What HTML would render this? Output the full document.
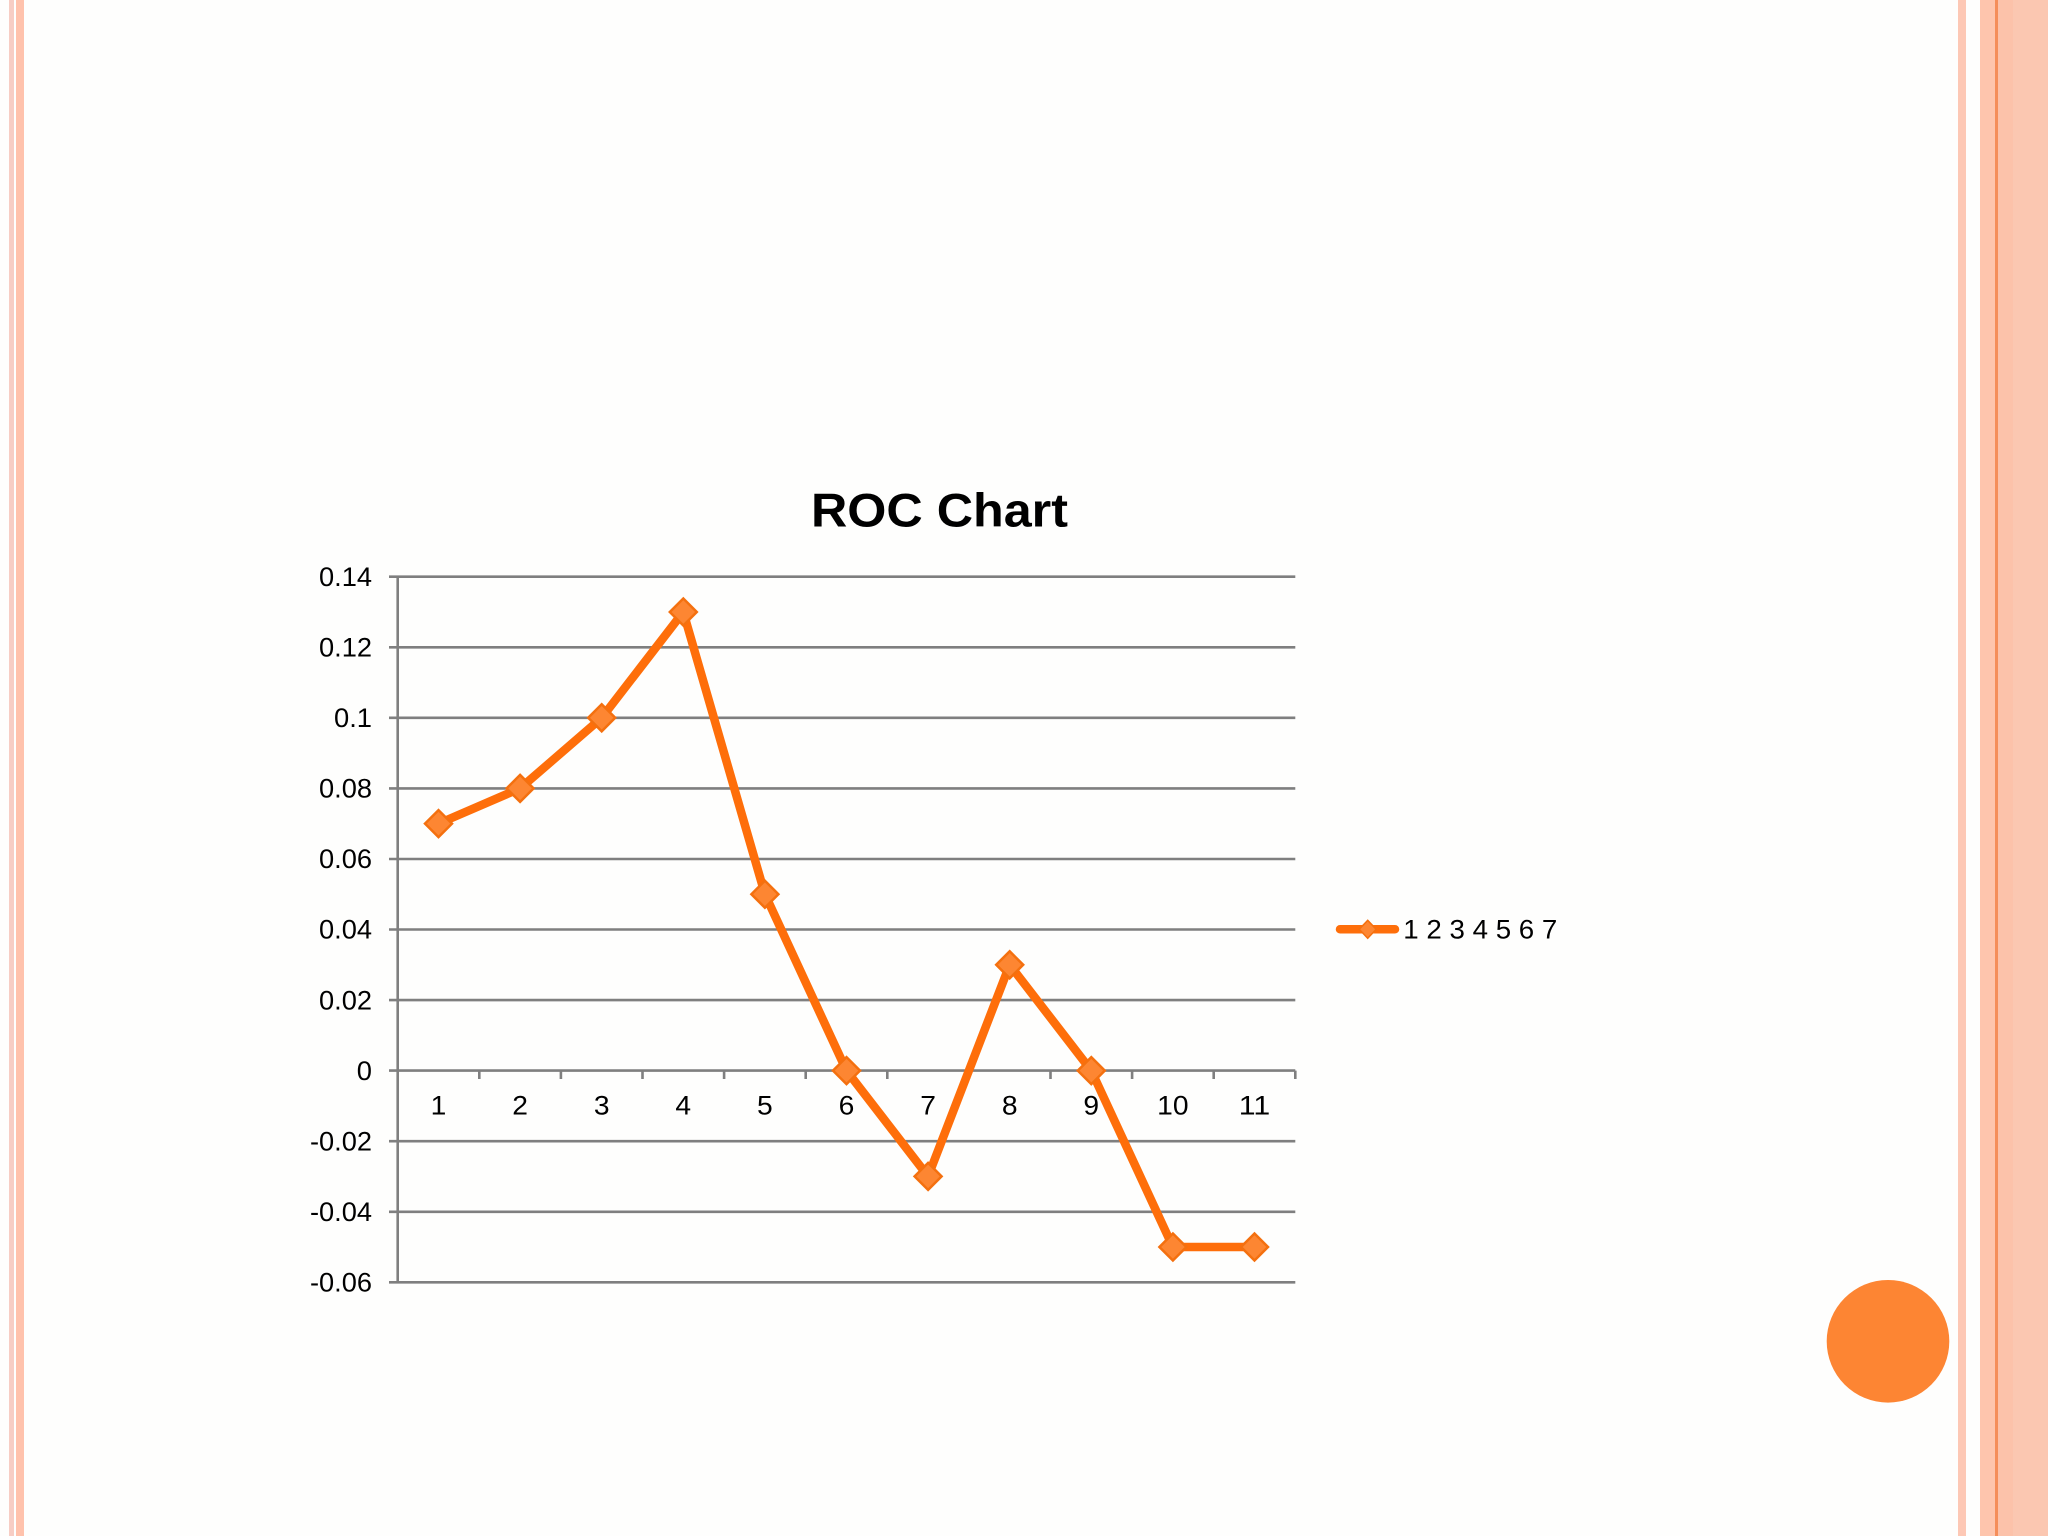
<!DOCTYPE html>
<html>
<head>
<meta charset="utf-8">
<style>
  html,body{margin:0;padding:0;}
  body{width:2048px;height:1536px;overflow:hidden;background:#fefefd;}
  svg{display:block;}
  text{font-family:"Liberation Sans",Arial,sans-serif;}
</style>
</head>
<body>
<svg width="2048" height="1536" viewBox="0 0 2048 1536" xmlns="http://www.w3.org/2000/svg">
  <rect x="0" y="0" width="2048" height="1536" fill="#fefefd"/>
  <!-- left border stripes -->
  <rect x="9" y="0" width="5" height="1536" fill="#f7cdc4"/>
  <rect x="16" y="0" width="8" height="1536" fill="#ffc2ac"/>
  <!-- right border stripes -->
  <rect x="1958" y="0" width="8" height="1536" fill="#fdc8b5"/>
  <rect x="1980" y="0" width="15" height="1536" fill="#fec5ad"/>
  <rect x="1995" y="0" width="3" height="1536" fill="#f58e5a"/>
  <rect x="1998" y="0" width="15" height="1536" fill="#fcc2aa"/>
  <rect x="2013" y="0" width="35" height="1536" fill="#fbc7b1"/>

  <!-- orange circle -->
  <circle cx="1888" cy="1341.3" r="61.3" fill="#fd8533"/>

  <!-- title -->
  <text x="939.5" y="526.7" font-size="47" font-weight="bold" text-anchor="middle" fill="#000" textLength="257" lengthAdjust="spacingAndGlyphs">ROC Chart</text>

  <!-- gridlines -->
  <g stroke="#7f7f7f" stroke-width="2.6" fill="none">
    <line x1="389" y1="576.7" x2="1295.3" y2="576.7"/>
    <line x1="389" y1="647.3" x2="1295.3" y2="647.3"/>
    <line x1="389" y1="717.8" x2="1295.3" y2="717.8"/>
    <line x1="389" y1="788.4" x2="1295.3" y2="788.4"/>
    <line x1="389" y1="859.0" x2="1295.3" y2="859.0"/>
    <line x1="389" y1="929.5" x2="1295.3" y2="929.5"/>
    <line x1="389" y1="1000.1" x2="1295.3" y2="1000.1"/>
    <line x1="389" y1="1070.6" x2="1295.3" y2="1070.6"/>
    <line x1="389" y1="1141.2" x2="1295.3" y2="1141.2"/>
    <line x1="389" y1="1211.8" x2="1295.3" y2="1211.8"/>
    <line x1="389" y1="1282.3" x2="1295.3" y2="1282.3"/>
    <!-- y axis -->
    <line x1="397.7" y1="576.7" x2="397.7" y2="1282.3"/>
    <!-- x ticks -->
    <line x1="479.3" y1="1070.6" x2="479.3" y2="1079"/>
    <line x1="560.9" y1="1070.6" x2="560.9" y2="1079"/>
    <line x1="642.5" y1="1070.6" x2="642.5" y2="1079"/>
    <line x1="724.1" y1="1070.6" x2="724.1" y2="1079"/>
    <line x1="805.7" y1="1070.6" x2="805.7" y2="1079"/>
    <line x1="887.3" y1="1070.6" x2="887.3" y2="1079"/>
    <line x1="968.9" y1="1070.6" x2="968.9" y2="1079"/>
    <line x1="1050.5" y1="1070.6" x2="1050.5" y2="1079"/>
    <line x1="1132.1" y1="1070.6" x2="1132.1" y2="1079"/>
    <line x1="1213.7" y1="1070.6" x2="1213.7" y2="1079"/>
    <line x1="1295.3" y1="1070.6" x2="1295.3" y2="1079"/>
  </g>

  <!-- y labels -->
  <g font-size="26.8" fill="#000" text-anchor="end">
    <text x="372" y="585.9" textLength="53" lengthAdjust="spacingAndGlyphs">0.14</text>
    <text x="372" y="656.5" textLength="53" lengthAdjust="spacingAndGlyphs">0.12</text>
    <text x="372" y="727.0" textLength="38" lengthAdjust="spacingAndGlyphs">0.1</text>
    <text x="372" y="797.6" textLength="53" lengthAdjust="spacingAndGlyphs">0.08</text>
    <text x="372" y="868.2" textLength="53" lengthAdjust="spacingAndGlyphs">0.06</text>
    <text x="372" y="938.7" textLength="53" lengthAdjust="spacingAndGlyphs">0.04</text>
    <text x="372" y="1009.3" textLength="53" lengthAdjust="spacingAndGlyphs">0.02</text>
    <text x="372" y="1079.8" textLength="15.2" lengthAdjust="spacingAndGlyphs">0</text>
    <text x="372" y="1150.4" textLength="62" lengthAdjust="spacingAndGlyphs">-0.02</text>
    <text x="372" y="1221.0" textLength="62" lengthAdjust="spacingAndGlyphs">-0.04</text>
    <text x="372" y="1291.5" textLength="62" lengthAdjust="spacingAndGlyphs">-0.06</text>
  </g>

  <!-- x labels -->
  <g font-size="27.2" fill="#000" text-anchor="middle">
    <text x="438.5" y="1114.5" textLength="15.7" lengthAdjust="spacingAndGlyphs">1</text>
    <text x="520.1" y="1114.5" textLength="15.7" lengthAdjust="spacingAndGlyphs">2</text>
    <text x="601.7" y="1114.5" textLength="15.7" lengthAdjust="spacingAndGlyphs">3</text>
    <text x="683.3" y="1114.5" textLength="15.7" lengthAdjust="spacingAndGlyphs">4</text>
    <text x="764.9" y="1114.5" textLength="15.7" lengthAdjust="spacingAndGlyphs">5</text>
    <text x="846.5" y="1114.5" textLength="15.7" lengthAdjust="spacingAndGlyphs">6</text>
    <text x="928.1" y="1114.5" textLength="15.7" lengthAdjust="spacingAndGlyphs">7</text>
    <text x="1009.7" y="1114.5" textLength="15.7" lengthAdjust="spacingAndGlyphs">8</text>
    <text x="1091.3" y="1114.5" textLength="15.7" lengthAdjust="spacingAndGlyphs">9</text>
    <text x="1172.9" y="1114.5" textLength="31.4" lengthAdjust="spacingAndGlyphs">10</text>
    <text x="1254.5" y="1114.5" textLength="31.4" lengthAdjust="spacingAndGlyphs">11</text>
  </g>

  <!-- series line -->
  <polyline fill="none" stroke="#fe6e0a" stroke-width="8.5" stroke-linejoin="round" stroke-linecap="round"
    points="438.5,823.6 520.1,788.4 601.7,717.8 683.3,612.0 764.9,894.2 846.5,1070.6 928.1,1176.4 1009.7,964.8 1091.3,1070.6 1172.9,1247.0 1254.5,1247.0"/>

  <!-- markers -->
  <g fill="#fd8632" stroke="#f4700f" stroke-width="2.5" stroke-linejoin="miter">
    <path d="M438.5 810.1 L452 823.6 L438.5 837.1 L425 823.6 Z"/>
    <path d="M520.1 774.9 L533.6 788.4 L520.1 801.9 L506.6 788.4 Z"/>
    <path d="M601.7 704.3 L615.2 717.8 L601.7 731.3 L588.2 717.8 Z"/>
    <path d="M683.3 598.5 L696.8 612.0 L683.3 625.5 L669.8 612.0 Z"/>
    <path d="M764.9 880.7 L778.4 894.2 L764.9 907.7 L751.4 894.2 Z"/>
    <path d="M846.5 1057.1 L860 1070.6 L846.5 1084.1 L833 1070.6 Z"/>
    <path d="M928.1 1162.9 L941.6 1176.4 L928.1 1189.9 L914.6 1176.4 Z"/>
    <path d="M1009.7 951.3 L1023.2 964.8 L1009.7 978.3 L996.2 964.8 Z"/>
    <path d="M1091.3 1057.1 L1104.8 1070.6 L1091.3 1084.1 L1077.8 1070.6 Z"/>
    <path d="M1172.9 1233.5 L1186.4 1247.0 L1172.9 1260.5 L1159.4 1247.0 Z"/>
    <path d="M1254.5 1233.5 L1268 1247.0 L1254.5 1260.5 L1241 1247.0 Z"/>
  </g>

  <!-- legend -->
  <line x1="1340" y1="929.3" x2="1395" y2="929.3" stroke="#fe6e0a" stroke-width="8.5" stroke-linecap="round"/>
  <path d="M1367.7 920.3 L1376.2 929.3 L1367.7 938.3 L1359.2 929.3 Z" fill="#fd8632" stroke="#f4700f" stroke-width="1.5"/>
  <text x="1403.3" y="938.3" font-size="26.5" fill="#000" textLength="154" lengthAdjust="spacingAndGlyphs">1 2 3 4 5 6 7</text>
</svg>
</body>
</html>
